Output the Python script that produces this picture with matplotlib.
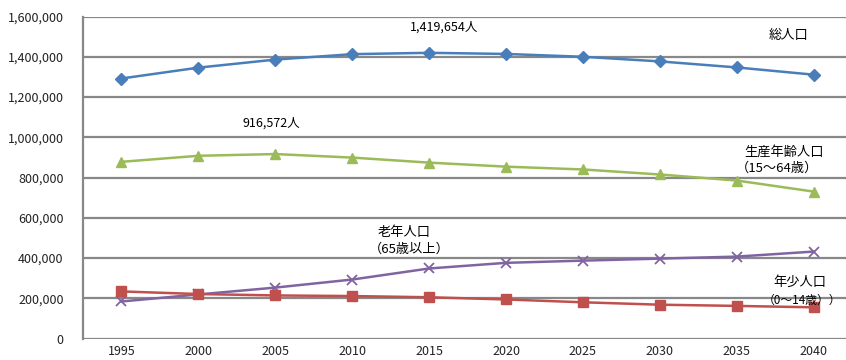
import matplotlib.pyplot as plt
from matplotlib.ticker import FuncFormatter

plt.rcParams['font.family'] = ['Noto Sans CJK JP', 'DejaVu Sans']

years = ['1995', '2000', '2005', '2010', '2015', '2020', '2025', '2030', '2035', '2040']
total = [1292000, 1346000, 1386000, 1413000, 1419654, 1414000, 1400000, 1377000, 1347000, 1311000]
working = [878000, 908000, 916572, 899000, 874000, 854000, 840000, 815000, 785000, 730000]
elderly = [184000, 219000, 253000, 293000, 348000, 376000, 387000, 397000, 407000, 432000]
youth = [234000, 221000, 214000, 211000, 205000, 194000, 180000, 168000, 162000, 155000]

fig = plt.figure(figsize=(8.46, 3.6), dpi=100)
ax = fig.add_axes([0.0981, 0.0597, 0.9019, 0.8944])

x = range(len(years))
ax.plot(x, total, color='#4A7EBB', marker='D', markersize=6.5, linewidth=1.8)
ax.plot(x, working, color='#9BBB59', marker='^', markersize=7.5, linewidth=1.8)
ax.plot(x, elderly, color='#8064A2', marker='x', markersize=7.5, markeredgewidth=1.3, linewidth=1.8)
ax.plot(x, youth, color='#C0504D', marker='s', markersize=7, linewidth=1.8)

# plot area runs a little past the right edge of the figure
ax.set_xlim(-0.5, 9.42)
ax.set_ylim(0, 1600000)
ax.set_yticks(range(0, 1600001, 200000))
ax.yaxis.set_major_formatter(FuncFormatter(lambda v, p: f'{int(v):,}'))
ax.set_xticks(list(x))
ax.set_xticklabels(years)
ax.tick_params(length=0, labelsize=9, colors='#222222')
ax.tick_params(axis='y', pad=14)
ax.tick_params(axis='x', pad=5)

ax.grid(axis='y', color='#888888', linewidth=1.6)
ax.set_axisbelow(True)
for side in ['top', 'right', 'bottom']:
    ax.spines[side].set_visible(False)
ax.spines['left'].set_color('#888888')
ax.spines['left'].set_linewidth(1.6)

# series labels (full-width parens carry blank space on the left, so those lines sit a bit further left)
fs = 9.5
ax.text(4.19, 1545000, '1,419,654人', fontsize=9, ha='center', va='center')
ax.text(1.95, 1068000, '916,572人', fontsize=9, ha='center', va='center')
ax.text(8.41, 1505000, '総人口', fontsize=fs, ha='left', va='center')
ax.text(8.10, 924000, '生産年齢人口', fontsize=fs, ha='left', va='center')
ax.text(7.99, 845000, '（15～64歳）', fontsize=fs, ha='left', va='center')
ax.text(3.33, 527000, '老年人口', fontsize=fs, ha='left', va='center')
ax.text(3.22, 444000, '（65歳以上）', fontsize=fs, ha='left', va='center')
ax.text(8.48, 278000, '年少人口', fontsize=fs, ha='left', va='center')
ax.text(8.34, 192000, '（0～14歳））', fontsize=8.5, ha='left', va='center')

fig.savefig('out.png', dpi=100)
